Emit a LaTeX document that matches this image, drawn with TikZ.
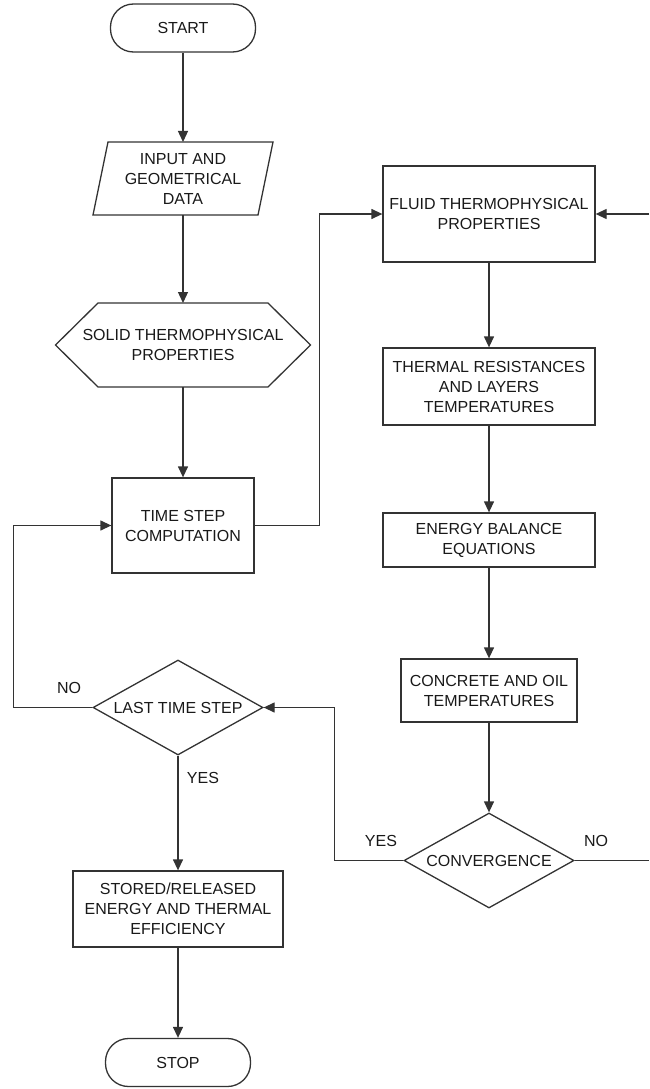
\documentclass[tikz,border=0pt]{standalone}
\usepackage{fontspec}
\setmainfont{Liberation Sans}
\usetikzlibrary{arrows.meta,shapes.geometric}
\begin{document}
\begin{tikzpicture}[x=1pt,y=-1pt,
  font=\fontsize{16pt}{20pt}\selectfont,
  every node/.style={align=center, text=black!90},
  ln/.style={draw=black!80, line width=1.3pt},
  arr/.style={ln, -{Triangle[length=11pt,width=10pt]}},
  box/.style={ln, rectangle, inner sep=0pt, minimum width=#1},
  term/.style={ln, rectangle, rounded corners=23pt, minimum width=145pt, minimum height=48pt, inner sep=0pt},
  frame/.style={rectangle, inner sep=0pt, outer sep=0pt},
  dia/.style={ln, diamond, aspect=1.79, inner sep=0pt, minimum width=170pt, minimum height=95pt},
  lbl/.style={inner sep=0pt}]
\useasboundingbox (0,0) rectangle (649,1089);

% left column
\node[term] (start) at (183,28) {START};
\node[frame, minimum width=165pt, minimum height=73pt] (inp) at (183,178.5) {INPUT AND\\GEOMETRICAL\\DATA};
\draw[ln] ([xshift=7.5pt]inp.north west) -- ([xshift=7.5pt]inp.north east)
  -- ([xshift=-7.5pt]inp.south east) -- ([xshift=-7.5pt]inp.south west) -- cycle;
\node[frame, minimum width=255pt, minimum height=84pt] (solid) at (183,345) {SOLID THERMOPHYSICAL\\PROPERTIES};
\draw[ln] (solid.west) -- ([xshift=42.5pt]solid.north west) -- ([xshift=-42.5pt]solid.north east)
  -- (solid.east) -- ([xshift=-42.5pt]solid.south east) -- ([xshift=42.5pt]solid.south west) -- cycle;
\node[box=142pt, minimum height=95pt] (ts) at (183,525.5) {TIME STEP\\COMPUTATION};
\node[dia] (last) at (178,707.5) {LAST TIME STEP};
\node[box=210pt, minimum height=76pt] (stored) at (178,909) {STORED/RELEASED\\ENERGY AND THERMAL\\EFFICIENCY};
\node[term] (stop) at (178,1062.5) {STOP};

% right column
\node[box=212pt, minimum height=96pt] (fluid) at (489,214) {FLUID THERMOPHYSICAL\\PROPERTIES};
\node[box=212pt, minimum height=77pt] (therm) at (489,386.5) {THERMAL RESISTANCES\\AND LAYERS\\TEMPERATURES};
\node[box=212pt, minimum height=54pt] (energy) at (489,540) {ENERGY BALANCE\\EQUATIONS};
\node[box=176pt, minimum height=63pt] (conc) at (489,690.5) {CONCRETE AND OIL\\TEMPERATURES};
\node[dia] (conv) at (489,860.5) {CONVERGENCE};

% loose ends at the right border
\coordinate (noend) at (649,860.5);
\coordinate (backin) at (649,214);

% branch labels
\node[lbl] (lno) at (69,688) {NO};
\node[lbl] (lyes) at (203,778) {YES};
\node[lbl] (cyes) at (381,841) {YES};
\node[lbl] (cno) at (596,841) {NO};

% connectors
\draw[arr] (start) -- (inp);
\draw[arr] (inp) -- (solid);
\draw[arr] (solid) -- (ts);
\draw[arr] (ts.east) -- ++(65,0) |- (fluid.west);
\draw[arr] (fluid) -- (therm);
\draw[arr] (therm) -- (energy);
\draw[arr] (energy) -- (conc);
\draw[arr] (conc) -- (conv);
\draw[arr] (conv.west) -- ++(-69,0) |- (last.east);
\draw[ln] (conv.east) -- (noend);
\draw[arr] (backin) -- (fluid.east);
\draw[arr] (last.west) -- ++(-79,0) |- (ts.west);
\draw[arr] (last) -- (stored);
\draw[arr] (stored) -- (stop);
\end{tikzpicture}
\end{document}
